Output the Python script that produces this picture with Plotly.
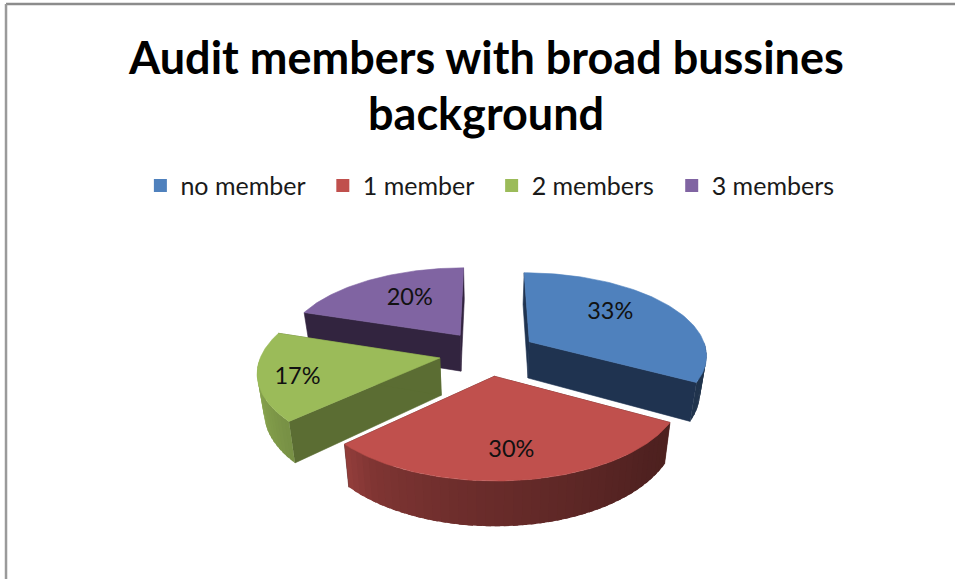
import numpy as np
import plotly.graph_objects as go

# Chart content
title_lines = ["Audit members with broad bussines", "background"]
categories = ["no member", "1 member", "2 members", "3 members"]
values = [33, 30, 17, 20]
colors = ["#4F81BD", "#C0504D", "#9BBB59", "#8064A2"]
cut_colors = ["#1F3350", "#4F1E1C", "#5B6D33", "#32243F"]
# Where each percentage sits inside its slice: share of the slice's sweep, share of the radius
label_sweep = [0.43, 0.51, 0.46, 0.565]
label_radius = [0.65, 0.73, 0.79, 0.63]

# Tilted-disc projection used for the pie, in pixels
CX, CY = 488, 353
RX, RY = 178, 82
PERSPECTIVE = 0.145
DEPTH = 37
DEPTH_SHRINK = 0.03
EXPLODE = 0.275
LABEL_DROP = 0.06
FONT = "Lato"
LEGEND_PADDING = "\u00a0\u00a0"

# Rim brightness around the clock (degrees clockwise from 12 o'clock)
shade_angles = [90, 130, 190, 215, 227, 265, 288]
shade_levels = [0.40, 0.41, 0.57, 0.66, 0.77, 0.92, 0.92]


def project(theta, r, bisector, drop=0.0):
    """Map a disc point of an exploded slice to the page; drop=1 gives the lower edge."""
    t, b = np.radians(theta), np.radians(bisector)
    wx = r * np.sin(t) + EXPLODE * np.sin(b)
    wy = -r * np.cos(t) - EXPLODE * np.cos(b)
    s = 1 / (1 - PERSPECTIVE * wy)
    return (CX + RX * wx * s * (1 - DEPTH_SHRINK * drop),
            CY + RY * wy * s + DEPTH * s * drop)


def darken(hex_color, level):
    rgb = [int(hex_color[i:i + 2], 16) for i in (1, 3, 5)]
    return "rgb({},{},{})".format(*[int(round(c * level)) for c in rgb])


def patch(xs, ys, color, line_width=0.6):
    return go.Scatter(
        x=list(xs), y=list(ys), mode="lines", fill="toself", fillcolor=color,
        line=dict(color=color, width=line_width), hoverinfo="skip", showlegend=False,
    )


fig = go.Figure()

# Legend entries
for name, color in zip(categories, colors):
    fig.add_trace(go.Scatter(
        x=[None], y=[None], mode="markers", name=name + LEGEND_PADDING,
        marker=dict(symbol="square", size=13, color=color),
    ))

# Slice sweeps come straight from the values
edges = np.concatenate([[0], np.cumsum(values)]) / sum(values) * 360
slices = []
for i, v in enumerate(values):
    start, end = edges[i], edges[i + 1]
    slices.append(dict(i=i, start=start, end=end, mid=(start + end) / 2))

# Painted back to front
for sl in [slices[3], slices[0], slices[2], slices[1]]:
    i, start, end, mid = sl["i"], sl["start"], sl["end"], sl["mid"]

    # Radial cut faces
    for edge in (start, end):
        ax, ay = project(edge, 0, mid)
        ox, oy = project(edge, 1, mid)
        bx, by = project(edge, 1, mid, 1)
        cx, cy = project(edge, 0, mid, 1)
        fig.add_trace(patch([ax, ox, bx, cx, ax], [ay, oy, by, cy, ay], cut_colors[i]))

    # Outer rim, only along the near half of the disc; each band overlaps the next one
    # so no seams show between them
    lo, hi = max(start, 90), min(end, 270)
    if hi > lo:
        steps = np.linspace(lo, hi, int((hi - lo) / 2.5) + 2)
        if lo > 90:
            steps = steps[::-1]
        for a0, a1 in zip(steps[:-1], steps[1:]):
            band = np.linspace(a0, a1 + (a1 - a0) * 0.6, 4)
            band = np.clip(band, lo, hi)
            tx, ty = project(band, 1, mid)
            bx, by = project(band, 1, mid, 1)
            level = float(np.interp((a0 + a1) / 2, shade_angles, shade_levels))
            fig.add_trace(patch(np.r_[tx, bx[::-1], tx[0]], np.r_[ty, by[::-1], ty[0]],
                                darken(colors[i], level), line_width=0))

    # Top face
    arc = np.linspace(start, end, 80)
    px, py = project(arc, 1, mid)
    ax, ay = project(start, 0, mid)
    fig.add_trace(patch(np.r_[ax, px, ax], np.r_[ay, py, ay], colors[i]))

# Percentage labels
for sl in slices:
    i = sl["i"]
    theta = sl["start"] + label_sweep[i] * (sl["end"] - sl["start"])
    lx, ly = project(theta, label_radius[i], sl["mid"], LABEL_DROP)
    fig.add_trace(go.Scatter(
        x=[lx], y=[ly], mode="text", text=[f"{values[i]}%"], textposition="middle center",
        textfont=dict(family=FONT, size=23.5, color="#111111"),
        hoverinfo="skip", showlegend=False,
    ))

fig.update_layout(
    width=955, height=579, margin=dict(l=0, r=0, t=0, b=0),
    paper_bgcolor="white", plot_bgcolor="white",
    xaxis=dict(range=[0, 955], visible=False),
    yaxis=dict(range=[579, 0], visible=False),
    legend=dict(
        orientation="h", x=0.147, y=0.679, xanchor="left", yanchor="middle",
        font=dict(family=FONT, size=25, color="#1a1a1a"), itemwidth=30,
    ),
    shapes=[
        dict(type="line", xref="paper", yref="paper", x0=0.0063, x1=1, y0=0.9931, y1=0.9931,
             line=dict(color="#8C8C8C", width=2.5)),
        dict(type="line", xref="paper", yref="paper", x0=0.0063, x1=0.0063, y0=0, y1=0.9931,
             line=dict(color="#9A9A9A", width=2.5)),
    ],
    annotations=[
        dict(text=f"<b>{title_lines[0]}</b>", xref="x", yref="y", x=486, y=57, showarrow=False,
             font=dict(family=FONT, size=45, color="black")),
        dict(text=f"<b>{title_lines[1]}</b>", xref="x", yref="y", x=486, y=113, showarrow=False,
             font=dict(family=FONT, size=45, color="black")),
    ],
)

fig.write_html("out.html")
